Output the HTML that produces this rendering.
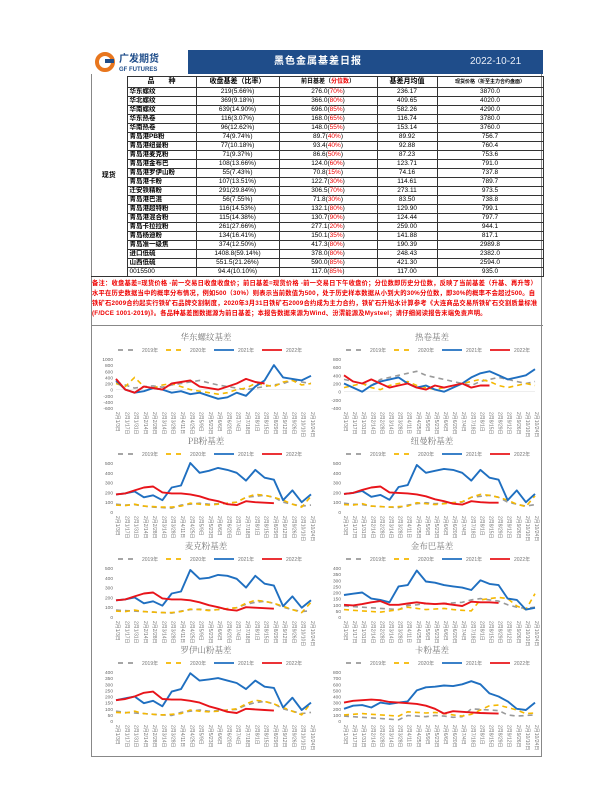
<!DOCTYPE html>
<html><head><meta charset="utf-8">
<style>
body{margin:0;width:600px;height:800px;background:#fff;position:relative;font-family:"Liberation Sans","Noto Sans CJK SC",sans-serif;overflow:hidden}
#frame{position:absolute;left:91px;top:50px;width:451px;height:707px;border:1px solid #888;box-sizing:border-box}
#hdr{position:absolute;left:91px;top:50px;width:452px;height:24px;background:#1f4d8a}
#logo{position:absolute;left:91px;top:50px;width:97px;height:24px;background:#fff;font-size:10px;color:#1f4d8a;font-weight:bold}
#title{position:absolute;left:188px;top:50px;width:260px;height:24px;line-height:24px;text-align:center;color:#fff;font-size:10px;font-weight:bold;letter-spacing:1px}
#date{position:absolute;left:470px;top:50px;height:24px;line-height:24px;color:#e8eef8;font-size:10px}
table{position:absolute;left:91px;top:76px;border-collapse:collapse;font-size:6.5px;table-layout:fixed}
td{border:1px solid #333;height:8px;padding:0 2px;line-height:8px;text-align:center;white-space:nowrap;overflow:hidden}
td.n{text-align:left;font-weight:bold}
tr.h td{height:10px;font-weight:bold;font-size:7px}
.r{color:#e00}
#note{position:absolute;left:92px;top:279px;width:448px;font-size:6.3px;line-height:10px;color:#e00;font-weight:bold;letter-spacing:.2px}
#charts{position:absolute;left:0;top:0}
</style></head><body>
<div id="frame"></div>
<div id="hdr"></div>
<div id="logo">
<svg width="97" height="24"><circle cx="14" cy="12" r="8" fill="none" stroke="#e8761e" stroke-width="4"/><rect x="14" y="9" width="9" height="4" fill="#1f4d8a"/>
<text x="28" y="12" font-size="10" font-weight="bold" fill="#1f4d8a" font-family="Liberation Sans,Noto Sans CJK SC,sans-serif">广发期货</text>
<text x="28" y="21" font-size="6" font-weight="bold" fill="#1f4d8a" font-family="Liberation Sans,sans-serif">GF FUTURES</text></svg></div>
<div id="title">黑色金属基差日报</div>
<div id="date">2022-10-21</div>

<table>
<colgroup><col style="width:36px"><col style="width:69px"><col style="width:83px"><col style="width:98px"><col style="width:60px"><col style="width:106px"></colgroup>
<tr class="h"><td style="border-top:none;border-left:none" rowspan="22">现货</td><td>品　　种</td><td>收盘基差（比率）</td><td style="font-size:6px">前日基差（<span class="r">分位数</span>）</td><td>基差月均值</td><td style="font-size:5px">现货价格（折至主力合约盘面）</td></tr>
<tr><td class="n">华东螺纹</td><td>219(5.66%)</td><td>276.0(<span class="r">70%</span>)</td><td>236.17</td><td>3870.0</td></tr>
<tr><td class="n">华北螺纹</td><td>369(9.18%)</td><td>366.0(<span class="r">80%</span>)</td><td>409.65</td><td>4020.0</td></tr>
<tr><td class="n">华南螺纹</td><td>639(14.90%)</td><td>696.0(<span class="r">85%</span>)</td><td>582.26</td><td>4290.0</td></tr>
<tr><td class="n">华东热卷</td><td>116(3.07%)</td><td>168.0(<span class="r">65%</span>)</td><td>116.74</td><td>3780.0</td></tr>
<tr><td class="n">华南热卷</td><td>96(12.62%)</td><td>148.0(<span class="r">55%</span>)</td><td>153.14</td><td>3760.0</td></tr>
<tr><td class="n">青岛港PB粉</td><td>74(9.74%)</td><td>89.7(<span class="r">40%</span>)</td><td>89.92</td><td>756.7</td></tr>
<tr><td class="n">青岛港纽曼粉</td><td>77(10.18%)</td><td>93.4(<span class="r">40%</span>)</td><td>92.88</td><td>760.4</td></tr>
<tr><td class="n">青岛港麦克粉</td><td>71(9.37%)</td><td>86.6(<span class="r">50%</span>)</td><td>87.23</td><td>753.6</td></tr>
<tr><td class="n">青岛港金布巴</td><td>108(13.66%)</td><td>124.0(<span class="r">60%</span>)</td><td>123.71</td><td>791.0</td></tr>
<tr><td class="n">青岛港罗伊山粉</td><td>55(7.43%)</td><td>70.8(<span class="r">15%</span>)</td><td>74.16</td><td>737.8</td></tr>
<tr><td class="n">青岛港卡粉</td><td>107(13.51%)</td><td>122.7(<span class="r">30%</span>)</td><td>114.61</td><td>789.7</td></tr>
<tr><td class="n">迁安铁精粉</td><td>291(29.84%)</td><td>306.5(<span class="r">70%</span>)</td><td>273.11</td><td>973.5</td></tr>
<tr><td class="n">青岛港巴混</td><td>56(7.55%)</td><td>71.8(<span class="r">30%</span>)</td><td>83.50</td><td>738.8</td></tr>
<tr><td class="n">青岛港超特粉</td><td>116(14.53%)</td><td>132.1(<span class="r">80%</span>)</td><td>129.90</td><td>799.1</td></tr>
<tr><td class="n">青岛港混合粉</td><td>115(14.38%)</td><td>130.7(<span class="r">90%</span>)</td><td>124.44</td><td>797.7</td></tr>
<tr><td class="n">青岛卡拉拉粉</td><td>261(27.66%)</td><td>277.1(<span class="r">20%</span>)</td><td>259.00</td><td>944.1</td></tr>
<tr><td class="n">青岛杨迪粉</td><td>134(16.41%)</td><td>150.1(<span class="r">35%</span>)</td><td>141.88</td><td>817.1</td></tr>
<tr><td class="n">青岛准一级焦</td><td>374(12.50%)</td><td>417.3(<span class="r">80%</span>)</td><td>190.39</td><td>2989.8</td></tr>
<tr><td class="n">进口低硫</td><td>1408.8(59.14%)</td><td>378.0(<span class="r">80%</span>)</td><td>248.43</td><td>2382.0</td></tr>
<tr><td class="n">山西低硫</td><td>551.5(21.26%)</td><td>590.0(<span class="r">85%</span>)</td><td>421.30</td><td>2594.0</td></tr>
<tr><td class="n" style="font-weight:normal">0015500</td><td>94.4(10.10%)</td><td>117.0(<span class="r">85%</span>)</td><td>117.00</td><td>935.0</td></tr>
</table>
<div id="note">备注：收盘基差=现货价格 -前一交易日收盘收盘价；前日基差=现货价格 -前一交易日下午收盘价；分位数即历史分位数，反映了当前基差（升基、再升等）水平在历史数据当中的概率分布情况，例如500（30%）则表示当前数值为500，处于历史样本数据从小到大的30%分位数，即30%的概率不会超过500。自铁矿石2009合约起实行铁矿石品牌交割制度，2020年3月31日铁矿石2009合约成为主力合约，铁矿石升贴水计算参考《大连商品交易所铁矿石交割质量标准(F/DCE 1001-2019)》。各品种基差图数据源为前日基差；本报告数据来源为Wind、汾渭能源及Mysteel；请仔细阅读报告末端免责声明。</div>
<div style="position:absolute;left:91px;top:325px;width:452px;border-top:1px solid #888"></div>

<svg id="charts" width="600" height="800"></svg>
<script>
// ---- data (estimated from reference) ----
const xLabels = ["1/3","1/17","1/31","2/14","2/28","3/14","3/28","4/11","4/25","5/9","5/23","6/6","6/20","7/4","7/18","8/1","8/15","8/29","9/12","9/26","10/10","10/24"];
const titles = ["华东螺纹基差","热卷基差","PB粉基差","纽曼粉基差","麦克粉基差","金布巴基差","罗伊山粉基差","卡粉基差"];
const yMins = [-600,-400,0,0,0,0,0,0];
const yMaxs = [1000,800,500,500,500,400,400,800];
const ySteps = [200,200,100,100,100,50,50,100];
const legendNames = ["2019年","2020年","2021年","2022年"];

const s2019_0=[250,150,50,100,120,80,150,200,250,300,220,150,100,50,0,50,100,150,200,300,250,200];
const s2020_0=[200,100,400,100,50,150,200,100,0,-50,-100,-150,-100,0,50,200,150,100,250,300,150,200];
const s2021_0=[300,0,-100,-50,50,0,-100,-50,-150,-100,-200,-300,-250,-100,-200,100,300,800,400,350,300,450];
const s2022_0=[350,0,-100,100,50,0,200,250,300,100,50,0,100,200,350,250,200];

const s2019_1=[300,250,200,150,300,350,400,450,500,400,350,300,250,200,150,250,300,350,300,250,200,250];
const s2020_1=[100,150,200,100,50,150,200,250,150,100,50,100,150,200,250,300,250,150,100,150,200,150];
const s2021_1=[200,100,0,150,250,300,350,200,100,150,50,0,100,200,350,450,500,400,300,350,400,550];
const s2022_1=[400,250,200,300,200,100,150,200,100,50,150,100,150,200,100,150,150];

const s2019_2=[80,70,75,60,50,45,40,70,80,90,80,85,90,100,150,160,170,150,100,80,60,70];
const s2020_2=[70,65,80,60,55,50,50,60,90,80,70,80,90,100,150,180,170,150,120,80,50,160];
const s2021_2=[180,190,210,150,170,120,250,270,500,400,420,450,430,400,320,430,350,330,120,220,100,180];
const s2022_2=[180,190,220,250,260,200,190,190,180,160,130,110,80,70,110,100,95,90];

const s2019_3=[90,80,75,60,55,50,45,70,85,95,85,90,95,100,150,160,170,150,100,80,60,75];
const s2020_3=[75,70,85,60,55,50,55,60,95,85,75,85,95,105,150,180,170,150,120,80,55,165];
const s2021_3=[185,195,215,155,175,125,255,275,480,400,420,440,430,400,320,430,350,330,120,220,100,185];
const s2022_3=[185,195,225,250,260,200,195,190,180,160,130,110,85,75,110,100,95,95];

const s2019_4=[70,65,60,55,50,45,40,60,75,80,70,75,85,95,130,150,160,140,100,75,55,65];
const s2020_4=[60,55,70,55,50,45,45,55,80,75,65,75,85,95,140,170,160,140,110,75,45,150];
const s2021_4=[170,180,200,140,160,115,240,260,480,390,400,430,420,390,300,420,340,320,110,210,95,170];
const s2022_4=[170,180,210,240,250,190,180,180,170,150,120,100,75,65,100,95,90,85];

const s2019_5=[90,85,80,75,70,65,60,95,100,110,105,110,115,120,140,150,140,130,100,80,70,80];
const s2020_5=[60,55,50,45,40,50,60,80,70,60,65,70,60,55,50,140,150,160,150,90,60,190];
const s2021_5=[180,190,200,150,140,120,250,260,380,290,280,260,250,240,220,300,270,260,150,140,60,75];
const s2022_5=[100,95,105,120,130,100,100,110,120,110,105,110,100,90,125,120,120,115];

const s2019_6=[80,70,65,60,55,50,45,70,80,90,80,85,90,95,130,150,160,140,100,80,60,70];
const s2020_6=[70,65,80,60,55,50,55,60,90,80,75,80,90,100,140,170,160,140,110,80,50,150];
const s2021_6=[170,185,200,145,165,120,240,260,390,330,340,350,330,310,260,330,280,270,110,190,90,150];
const s2022_6=[170,180,200,230,240,180,175,175,165,150,120,100,75,65,100,95,90,85];

const s2019_7=[80,70,60,50,40,30,20,90,80,70,90,80,60,70,200,190,180,170,100,80,90,100];
const s2020_7=[100,110,120,110,100,90,80,150,140,130,140,120,100,80,110,180,250,260,220,180,120,130];
const s2021_7=[200,250,260,220,300,280,300,320,500,550,560,580,570,600,650,600,450,400,320,200,180,300];
const s2022_7=[300,330,340,350,340,310,300,290,280,250,200,120,160,150,140,130,125,120];

const seriesSets=[[s2019_0,s2020_0,s2021_0,s2022_0],[s2019_1,s2020_1,s2021_1,s2022_1],[s2019_2,s2020_2,s2021_2,s2022_2],[s2019_3,s2020_3,s2021_3,s2022_3],[s2019_4,s2020_4,s2021_4,s2022_4],[s2019_5,s2020_5,s2021_5,s2022_5],[s2019_6,s2020_6,s2021_6,s2022_6],[s2019_7,s2020_7,s2021_7,s2022_7]];

const NS="http://www.w3.org/2000/svg";
const svg=document.getElementById('charts');
const colors=["#9a9a9a","#f5b800","#1f6fc0","#e8141a"];
const dashes=["5,4","5,4",null,null];
const rowTops=[328,432,537,641];
function mk(tag,attrs,parent){const e=document.createElementNS(NS,tag);for(const k in attrs)e.setAttribute(k,attrs[k]);(parent||svg).appendChild(e);return e;}

titles.forEach((t,ci)=>{
  const col=ci%2,row=Math.floor(ci/2);
  const L=col?324:96,R=col?540:316,T=rowTops[row];
  const g=mk('g',{});
  
  
  const px0=L+20,px1=R-5,py0=T+31,py1=T+80;
  const xs=i=>px0+(px1-px0)*i/(xLabels.length-1);
  const ys=v=>py1-(py1-py0)*(v-yMins[ci])/(yMaxs[ci]-yMins[ci]);
  const tt=mk('text',{x:(L+R)/2,y:T+12,'text-anchor':'middle','font-size':8.5,fill:'#777','font-family':'Noto Serif CJK SC,serif'},g);
  tt.textContent=t;
  
  
  legendNames.forEach((n,si)=>{
    const lx=L+22+si*48;
    const ln=mk('line',{x1:lx,y1:T+22,x2:lx+20,y2:T+22,stroke:colors[si],'stroke-width':1.8},g);
    if(dashes[si])ln.setAttribute('stroke-dasharray','5,5');
    const lt=mk('text',{x:lx+24,y:T+24,'font-size':5,fill:'#777'},g);
    lt.textContent=n;
    
    
  });
  for(let v=yMins[ci];v<=yMaxs[ci]+1e-6;v+=ySteps[ci]){
    const yt=mk('text',{x:px0-3,y:ys(v)+2,'text-anchor':'end','font-size':4.8,fill:'#666'},g);
    yt.textContent=v;
    
    
  }
  if(yMins[ci]<0){mk('line',{x1:px0,x2:px1,y1:ys(0),y2:ys(0),stroke:'#ddd','stroke-width':0.5},g);}
  xLabels.forEach((lb,i)=>{
    const xt=mk('text',{x:xs(i),y:py1+4,'font-size':5,fill:'#777',transform:`rotate(90 ${xs(i)} ${py1+4})`},g);
    xt.textContent='2月'+lb+'日';
    
    
  });
  seriesSets[ci].forEach((arr,si)=>{
    const d=arr.map((v,i)=>(i?'L':'M')+xs(i).toFixed(1)+','+ys(v).toFixed(1)).join(' ');
    const p=mk('path',{d:d,fill:'none',stroke:colors[si],'stroke-width':si>=2?1.9:1.6,'stroke-linejoin':'round'},g);
    if(dashes[si])p.setAttribute('stroke-dasharray',dashes[si]);
    
    
  });
});
</script>
</body></html>
